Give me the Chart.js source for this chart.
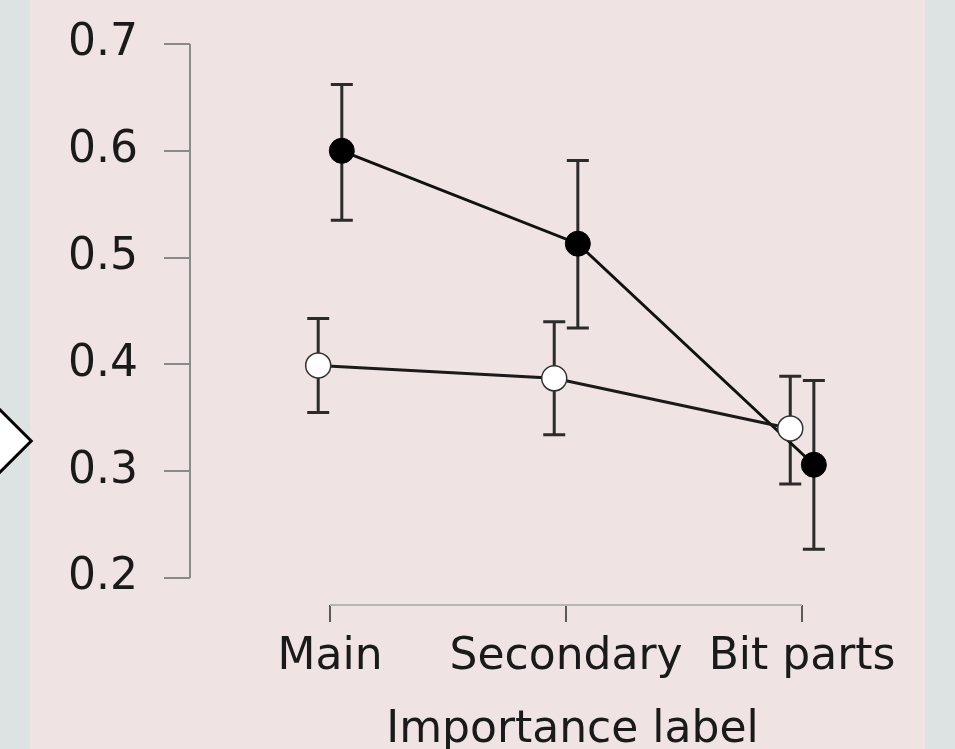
<!DOCTYPE html>
<html lang="en">
<head>
    <meta charset="UTF-8">
    <title>Importance label</title>
    <script src="https://cdn.jsdelivr.net/npm/chart.js@4.4.1/dist/chart.umd.min.js"></script>
    <style>
        body {
            margin: 0;
            background-color: #dde3e3;
        }
        #wrap {
            position: relative;
            width: 955px;
            height: 749px;
            overflow: hidden;
            background-color: #dde3e3;
        }
        #panel {
            position: absolute;
            left: 30px;
            top: 0;
            width: 895px;
            height: 749px;
            background-color: #f0e3e3;
        }
        #diamond {
            position: absolute;
            left: -27px;
            top: 416px;
            width: 44px;
            height: 44px;
            background: #fff;
            border: 3px solid #000;
            transform: rotate(45deg);
        }
        #chartBox {
            position: absolute;
            left: 0;
            top: 0;
            width: 955px;
            height: 749px;
        }
    </style>
</head>
<body>
<div id="wrap">
    <div id="panel"></div>
    <div id="diamond"></div>
    <div id="chartBox"><canvas id="effectChart"></canvas></div>
</div>

<script>
    // categories and tick labels
    var categories = ['Main', 'Secondary', 'Bit parts'];
    var yTicks = [0.2, 0.3, 0.4, 0.5, 0.6, 0.7];

    // filled circles series
    var filledMean = [0.600, 0.513, 0.306];
    var filledLow = [0.535, 0.434, 0.227];
    var filledHigh = [0.662, 0.591, 0.385];

    // open circles series
    var openMean = [0.399, 0.387, 0.340];
    var openLow = [0.355, 0.334, 0.288];
    var openHigh = [0.443, 0.440, 0.389];

    var dodge = 0.05;
    var fontFamily = '"DejaVu Sans", sans-serif';

    function toPoints(values, shift) {
        return values.map(function(v, i) {
            return { x: i + 1 + shift, y: v };
        });
    }

    // error bars drawn behind the points
    var errorBars = {
        id: 'errorBars',
        beforeDatasetsDraw: function(chart) {
            var ctx = chart.ctx;
            var x = chart.scales.x, y = chart.scales.y;
            ctx.save();
            ctx.strokeStyle = '#2b2b2b';
            ctx.lineWidth = 3;
            chart.data.datasets.forEach(function(ds) {
                ds.data.forEach(function(p, i) {
                    var px = x.getPixelForValue(p.x);
                    var lo = y.getPixelForValue(ds.low[i]);
                    var hi = y.getPixelForValue(ds.high[i]);
                    ctx.beginPath();
                    ctx.moveTo(px, lo); ctx.lineTo(px, hi);
                    ctx.moveTo(px - 11, lo); ctx.lineTo(px + 11, lo);
                    ctx.moveTo(px - 11, hi); ctx.lineTo(px + 11, hi);
                    ctx.stroke();
                });
            });
            ctx.restore();
        }
    };

    // R style axis lines that only span the tick range
    var axisLines = {
        id: 'axisLines',
        beforeDatasetsDraw: function(chart) {
            var ctx = chart.ctx;
            var x = chart.scales.x, y = chart.scales.y;
            var area = chart.chartArea;
            ctx.save();
            ctx.lineWidth = 2;
            ctx.strokeStyle = '#8a8a8a';
            ctx.beginPath();
            ctx.moveTo(area.left, y.getPixelForValue(yTicks[yTicks.length - 1]));
            ctx.lineTo(area.left, y.getPixelForValue(yTicks[0]));
            ctx.stroke();
            ctx.strokeStyle = '#b5b5b5';
            ctx.beginPath();
            ctx.moveTo(x.getPixelForValue(1), area.bottom);
            ctx.lineTo(x.getPixelForValue(categories.length), area.bottom);
            ctx.stroke();
            ctx.restore();
        }
    };

    var ctx = document.getElementById('effectChart').getContext('2d');
    new Chart(ctx, {
        type: 'line',
        data: {
            datasets: [{
                label: 'open',
                data: toPoints(openMean, -dodge),
                low: openLow,
                high: openHigh,
                order: 0,
                borderColor: '#1a1a1a',
                borderWidth: 3,
                pointRadius: 12.5,
                pointBackgroundColor: '#ffffff',
                pointBorderColor: '#333333',
                pointBorderWidth: 1.5,
                fill: false,
                tension: 0
            }, {
                label: 'filled',
                data: toPoints(filledMean, dodge),
                low: filledLow,
                high: filledHigh,
                order: 1,
                borderColor: '#111111',
                borderWidth: 3,
                pointRadius: 12.5,
                pointBackgroundColor: '#000000',
                pointBorderColor: '#000000',
                pointBorderWidth: 1,
                fill: false,
                tension: 0
            }]
        },
        options: {
            responsive: true,
            maintainAspectRatio: false,
            animation: false,
            layout: { padding: 0, autoPadding: false },
            plugins: {
                legend: { display: false },
                tooltip: { enabled: false }
            },
            scales: {
                x: {
                    type: 'linear',
                    min: 0.4068,
                    max: 3.648,
                    afterBuildTicks: function(scale) {
                        scale.ticks = categories.map(function(c, i) { return { value: i + 1 }; });
                    },
                    afterFit: function(scale) {
                        scale.height = 144;
                        scale.paddingLeft = 0;
                        scale.paddingRight = 0;
                    },
                    grid: {
                        drawOnChartArea: false,
                        drawTicks: true,
                        tickLength: 17,
                        color: '#5a5a5a',
                        lineWidth: 2
                    },
                    border: { display: false },
                    ticks: {
                        padding: 9,
                        color: '#1a1a1a',
                        font: { family: fontFamily, size: 44 },
                        maxRotation: 0,
                        autoSkip: false,
                        callback: function(v) { return categories[v - 1]; }
                    },
                    title: {
                        display: true,
                        text: 'Importance label',
                        color: '#1a1a1a',
                        font: { family: fontFamily, size: 44 },
                        padding: { top: 0, bottom: -8 }
                    }
                },
                y: {
                    min: 0.1747,
                    max: 0.7412,
                    afterBuildTicks: function(scale) {
                        scale.ticks = yTicks.map(function(v) { return { value: v }; });
                    },
                    afterFit: function(scale) {
                        scale.width = 190;
                        scale.paddingTop = 0;
                        scale.paddingBottom = 0;
                    },
                    grid: {
                        drawOnChartArea: false,
                        drawTicks: true,
                        tickLength: 26,
                        color: '#8a8a8a',
                        lineWidth: 2
                    },
                    border: { display: false },
                    ticks: {
                        padding: 26,
                        color: '#1a1a1a',
                        font: { family: fontFamily, size: 44 },
                        callback: function(v) { return v.toFixed(1); }
                    }
                }
            }
        },
        plugins: [axisLines, errorBars]
    });
</script>
</body>
</html>
